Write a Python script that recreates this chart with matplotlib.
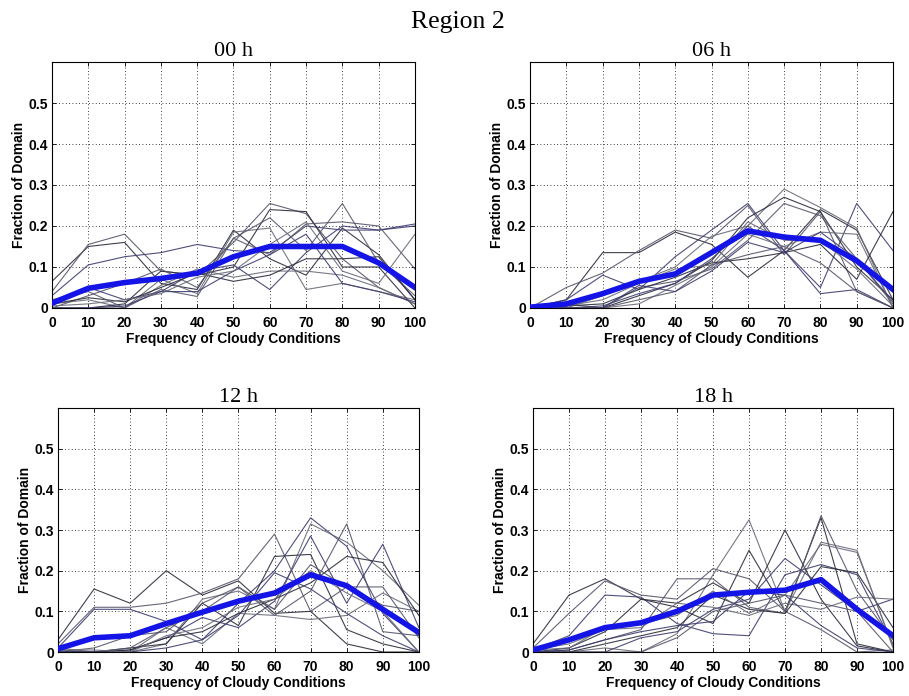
import matplotlib
matplotlib.use("Agg")
import matplotlib.pyplot as plt

# cloud-frequency bins (%)
freq = [0, 10, 20, 30, 40, 50, 60, 70, 80, 90, 100]

# ensemble mean per synoptic hour
mean_00 = [0.012, 0.048, 0.062, 0.072, 0.085, 0.125, 0.150, 0.150, 0.150, 0.110, 0.050]
mean_06 = [0.002, 0.010, 0.035, 0.065, 0.083, 0.135, 0.188, 0.173, 0.165, 0.115, 0.045]
mean_12 = [0.008, 0.035, 0.040, 0.070, 0.098, 0.125, 0.145, 0.190, 0.163, 0.105, 0.048]
mean_18 = [0.005, 0.030, 0.060, 0.072, 0.100, 0.140, 0.147, 0.152, 0.178, 0.105, 0.040]

# individual members, 00 h
members_00 = [
    [0.065, 0.150, 0.160, 0.060, 0.045, 0.190, 0.120, 0.080, 0.195, 0.130, 0.020],
    [0.040, 0.155, 0.180, 0.090, 0.080, 0.160, 0.255, 0.230, 0.120, 0.050, 0.010],
    [0.030, 0.105, 0.125, 0.135, 0.155, 0.140, 0.135, 0.200, 0.190, 0.190, 0.205],
    [0.010, 0.020, 0.000, 0.070, 0.035, 0.185, 0.195, 0.045, 0.060, 0.040, 0.020],
    [0.000, 0.000, 0.010, 0.090, 0.080, 0.100, 0.240, 0.235, 0.100, 0.100, 0.000],
    [0.000, 0.030, 0.060, 0.095, 0.050, 0.170, 0.220, 0.140, 0.255, 0.110, 0.030],
    [0.005, 0.050, 0.020, 0.040, 0.090, 0.105, 0.045, 0.135, 0.200, 0.190, 0.200],
    [0.000, 0.000, 0.000, 0.055, 0.095, 0.075, 0.090, 0.090, 0.080, 0.050, 0.010],
    [0.010, 0.025, 0.015, 0.050, 0.085, 0.065, 0.080, 0.120, 0.120, 0.125, 0.020],
    [0.020, 0.040, 0.000, 0.045, 0.028, 0.170, 0.130, 0.205, 0.210, 0.200, 0.095],
    [0.000, 0.000, 0.005, 0.040, 0.040, 0.090, 0.130, 0.180, 0.060, 0.040, 0.015],
    [0.005, 0.010, 0.020, 0.035, 0.075, 0.090, 0.155, 0.210, 0.090, 0.060, 0.180],
]

# individual members, 06 h
members_06 = [
    [0.000, 0.020, 0.135, 0.135, 0.185, 0.155, 0.075, 0.140, 0.240, 0.190, 0.020],
    [0.000, 0.050, 0.085, 0.140, 0.190, 0.170, 0.250, 0.130, 0.235, 0.040, 0.000],
    [0.000, 0.020, 0.080, 0.045, 0.125, 0.190, 0.255, 0.140, 0.050, 0.255, 0.140],
    [0.000, 0.000, 0.030, 0.065, 0.100, 0.175, 0.200, 0.290, 0.245, 0.195, 0.000],
    [0.000, 0.000, 0.000, 0.030, 0.060, 0.115, 0.220, 0.270, 0.235, 0.100, 0.020],
    [0.000, 0.010, 0.000, 0.050, 0.065, 0.095, 0.165, 0.255, 0.225, 0.120, 0.010],
    [0.000, 0.000, 0.005, 0.035, 0.060, 0.120, 0.200, 0.140, 0.035, 0.045, 0.000],
    [0.000, 0.000, 0.000, 0.010, 0.055, 0.100, 0.180, 0.150, 0.185, 0.180, 0.000],
    [0.000, 0.005, 0.010, 0.045, 0.075, 0.110, 0.120, 0.135, 0.155, 0.070, 0.235],
    [0.000, 0.000, 0.000, 0.020, 0.040, 0.105, 0.130, 0.150, 0.110, 0.040, 0.000],
    [0.000, 0.000, 0.000, 0.055, 0.040, 0.090, 0.160, 0.135, 0.185, 0.120, 0.015],
    [0.000, 0.005, 0.020, 0.060, 0.095, 0.105, 0.210, 0.165, 0.165, 0.095, 0.005],
]

# individual members, 12 h
members_12 = [
    [0.030, 0.155, 0.120, 0.200, 0.140, 0.175, 0.095, 0.100, 0.020, 0.000, 0.000],
    [0.020, 0.110, 0.110, 0.120, 0.145, 0.180, 0.290, 0.100, 0.160, 0.115, 0.100],
    [0.010, 0.105, 0.105, 0.075, 0.030, 0.120, 0.200, 0.330, 0.260, 0.095, 0.000],
    [0.000, 0.000, 0.000, 0.020, 0.130, 0.150, 0.105, 0.315, 0.270, 0.200, 0.115],
    [0.000, 0.000, 0.010, 0.020, 0.120, 0.065, 0.235, 0.240, 0.055, 0.020, 0.000],
    [0.005, 0.000, 0.010, 0.060, 0.100, 0.160, 0.090, 0.150, 0.315, 0.050, 0.040],
    [0.000, 0.000, 0.005, 0.035, 0.085, 0.060, 0.125, 0.285, 0.120, 0.265, 0.060],
    [0.010, 0.000, 0.000, 0.060, 0.020, 0.095, 0.090, 0.080, 0.090, 0.145, 0.100],
    [0.000, 0.000, 0.005, 0.035, 0.050, 0.095, 0.130, 0.170, 0.235, 0.220, 0.090],
    [0.000, 0.010, 0.040, 0.050, 0.120, 0.160, 0.105, 0.215, 0.160, 0.160, 0.035],
    [0.000, 0.000, 0.000, 0.010, 0.030, 0.090, 0.195, 0.155, 0.095, 0.040, 0.000],
    [0.005, 0.005, 0.000, 0.040, 0.060, 0.110, 0.130, 0.200, 0.145, 0.100, 0.000],
]

# individual members, 18 h
members_18 = [
    [0.020, 0.140, 0.180, 0.130, 0.110, 0.070, 0.250, 0.100, 0.330, 0.020, 0.000],
    [0.010, 0.095, 0.175, 0.140, 0.130, 0.205, 0.180, 0.100, 0.055, 0.000, 0.005],
    [0.005, 0.040, 0.140, 0.135, 0.070, 0.045, 0.040, 0.190, 0.215, 0.190, 0.020],
    [0.000, 0.000, 0.010, 0.000, 0.045, 0.190, 0.325, 0.100, 0.270, 0.250, 0.010],
    [0.000, 0.010, 0.050, 0.130, 0.120, 0.170, 0.120, 0.300, 0.130, 0.015, 0.000],
    [0.000, 0.005, 0.030, 0.055, 0.180, 0.180, 0.110, 0.095, 0.335, 0.150, 0.030],
    [0.000, 0.000, 0.000, 0.035, 0.050, 0.105, 0.130, 0.230, 0.165, 0.100, 0.130],
    [0.005, 0.020, 0.055, 0.060, 0.120, 0.110, 0.090, 0.120, 0.105, 0.135, 0.130],
    [0.000, 0.000, 0.020, 0.040, 0.060, 0.140, 0.105, 0.095, 0.210, 0.195, 0.060],
    [0.000, 0.000, 0.000, 0.000, 0.035, 0.100, 0.120, 0.140, 0.120, 0.100, 0.000],
    [0.000, 0.005, 0.030, 0.050, 0.065, 0.075, 0.150, 0.140, 0.065, 0.010, 0.000],
    [0.005, 0.010, 0.060, 0.070, 0.090, 0.150, 0.095, 0.140, 0.265, 0.245, 0.015],
]

hours = ["00 h", "06 h", "12 h", "18 h"]
means = [mean_00, mean_06, mean_12, mean_18]
members = [members_00, members_06, members_12, members_18]

# axes boxes in figure fractions (left, bottom, width, height)
boxes = [
    (0.0572, 0.5575, 0.3993, 0.3534),
    (0.5831, 0.5575, 0.3993, 0.3534),
    (0.0638, 0.0632, 0.3970, 0.3506),
    (0.5864, 0.0632, 0.3960, 0.3506),
]

member_colors = ["#2b2b3a", "#55556a", "#3c3c70", "#6a6a78"]

fig = plt.figure(figsize=(9.09, 6.96), dpi=100, facecolor="white")
fig.text(0.504, 0.968, "Region 2", ha="center", va="center",
         family="Liberation Serif", fontsize=18.5)

for k, (hr, mean, mem, box) in enumerate(zip(hours, means, members, boxes)):
    ax = fig.add_axes(box)
    for i, m in enumerate(mem):
        ax.plot(freq, m, color=member_colors[i % len(member_colors)],
                lw=0.8, alpha=0.9, zorder=2)
    ax.plot(freq, mean, color="#1414e6", lw=4.0, zorder=3,
            solid_joinstyle="round")

    ax.set_xlim(0, 100)
    ax.set_ylim(0, 0.6)
    ax.set_xticks(freq)
    ax.set_yticks([0, 0.1, 0.2, 0.3, 0.4, 0.5])
    ax.set_yticklabels(["0", "0.1", "0.2", "0.3", "0.4", "0.5"])
    ax.grid(True, color="black", linestyle=(0, (1, 3)), lw=0.6)
    ax.set_axisbelow(True)
    ax.tick_params(direction="in", length=3, width=0.6,
                   top=True, right=True, labelsize=10)
    ax.tick_params(axis="x", pad=5.5)
    ax.tick_params(axis="y", pad=3)
    for lab in ax.get_xticklabels() + ax.get_yticklabels():
        lab.set_fontweight("bold")
        lab.set_family("Liberation Sans")
    for sp in ax.spines.values():
        sp.set_linewidth(0.8)
    ax.set_xlabel("Frequency of Cloudy Conditions", family="Liberation Sans",
                  fontweight="bold", fontsize=10, labelpad=2)
    ax.set_ylabel("Fraction of Domain", family="Liberation Sans",
                  fontweight="bold", fontsize=10, labelpad=2)
    ax.set_title(hr, family="Liberation Serif", fontsize=16, pad=4)

fig.savefig("out.png", dpi=100, facecolor="white")
